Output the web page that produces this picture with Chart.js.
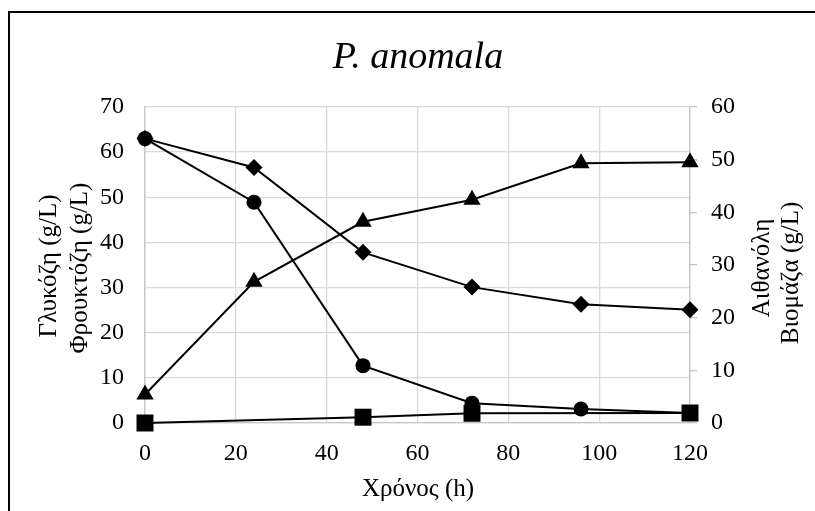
<!DOCTYPE html>
<html>
<head>
<meta charset="utf-8">
<script src="https://cdn.jsdelivr.net/npm/chart.js@4"></script>
<style>
  html, body { margin: 0; padding: 0; background: #fff; }
  canvas { display: block; }
</style>
</head>
<body>
<canvas id="chart" width="815" height="511"></canvas>
<script>
// time points (h)
const hours = [0, 24, 48, 72, 96, 120];

// left axis: sugars (g/L)
const glucose = [63, 48.9, 12.7, 4.4, 3.1, 2.2];
const fructose = [63, 56.6, 37.8, 30.1, 26.3, 25.1];

// right axis: ethanol and biomass (g/L)
const ethanol = [5.4, 26.8, 38.2, 42.4, 49.3, 49.5];
const biomass = [0, null, 1.1, 1.85, null, 1.9];

const xTicks = [0, 20, 40, 60, 80, 100, 120];
const leftTicks = [0, 10, 20, 30, 40, 50, 60, 70];
const rightTicks = [0, 10, 20, 30, 40, 50, 60];

const FONT = "'Liberation Serif', 'Times New Roman', serif";
const GRID = "#d9d9d9";
const AXIS = "#c6c6c6";

function toPoints(values) {
  return values.map((v, i) => ({ x: hours[i], y: v }));
}

function series(label, values, axis, shape, radius) {
  return {
    label,
    data: toPoints(values),
    yAxisID: axis,
    borderColor: "#000",
    backgroundColor: "#000",
    borderWidth: 2,
    pointStyle: shape,
    pointRadius: radius,
    pointBorderWidth: 0,
    pointBackgroundColor: "#000",
    spanGaps: true,
    tension: 0,
    clip: false,
  };
}

// frame, title and the two-line axis titles drawn by hand
const decorations = {
  id: "decorations",
  afterDraw(chart) {
    const ctx = chart.ctx;
    ctx.save();
    ctx.strokeStyle = "#000";
    ctx.lineWidth = 2;
    ctx.beginPath();
    ctx.moveTo(9, 520);
    ctx.lineTo(9, 12);
    ctx.lineTo(820, 12);
    ctx.stroke();

    ctx.fillStyle = "#000";
    ctx.textAlign = "center";
    ctx.textBaseline = "middle";
    ctx.font = "italic 38px " + FONT;
    ctx.fillText("P. anomala", 418, 58);

    ctx.font = "25px " + FONT;
    ctx.fillText("Χρόνος (h)", 418, 489);

    const vertical = (text, x, y) => {
      ctx.save();
      ctx.translate(x, y);
      ctx.rotate(-Math.PI / 2);
      ctx.fillText(text, 0, 0);
      ctx.restore();
    };
    vertical("Γλυκόζη (g/L)", 49, 266);
    vertical("Φρουκτόζη (g/L)", 80, 268);
    vertical("Αιθανόλη", 762, 268);
    vertical("Βιομάζα (g/L)", 791, 273);
    ctx.restore();
  },
};

new Chart(document.getElementById("chart"), {
  type: "line",
  data: {
    datasets: [
      series("Βιομάζα", biomass, "y1", "rect", 12),
      series("Γλυκόζη", glucose, "y", "circle", 7.5),
      series("Φρουκτόζη", fructose, "y", "rectRot", 8.5),
      series("Αιθανόλη", ethanol, "y1", "triangle", 10),
    ],
  },
  options: {
    responsive: false,
    animation: false,
    events: [],
    layout: { padding: { top: 107, left: 0, right: 0, bottom: 0 } },
    plugins: { legend: { display: false }, tooltip: { enabled: false } },
    scales: {
      x: {
        type: "linear",
        min: 0,
        max: 120,
        afterBuildTicks: (s) => { s.ticks = xTicks.map((v) => ({ value: v })); },
        afterFit: (s) => { s.height = 88; },
        ticks: { color: "#000", font: { family: FONT, size: 24 }, padding: 16 },
        grid: { color: GRID, lineWidth: 1.3, drawTicks: false },
        border: { color: AXIS, width: 1.3 },
      },
      y: {
        position: "left",
        min: 0,
        max: 70,
        afterBuildTicks: (s) => { s.ticks = leftTicks.map((v) => ({ value: v })); },
        afterFit: (s) => { s.width = 145; },
        ticks: { color: "#000", font: { family: FONT, size: 24 }, padding: 21 },
        grid: { color: GRID, lineWidth: 1.3, drawTicks: false },
        border: { color: AXIS, width: 1.3 },
      },
      y1: {
        position: "right",
        min: 0,
        max: 60,
        afterBuildTicks: (s) => { s.ticks = rightTicks.map((v) => ({ value: v })); },
        afterFit: (s) => { s.width = 125; },
        ticks: { color: "#000", font: { family: FONT, size: 24 }, padding: 14 },
        grid: { color: AXIS, lineWidth: 1.3, drawOnChartArea: false, tickLength: 7 },
        border: { color: AXIS, width: 1.3 },
      },
    },
  },
  plugins: [decorations],
});
</script>
</body>
</html>
